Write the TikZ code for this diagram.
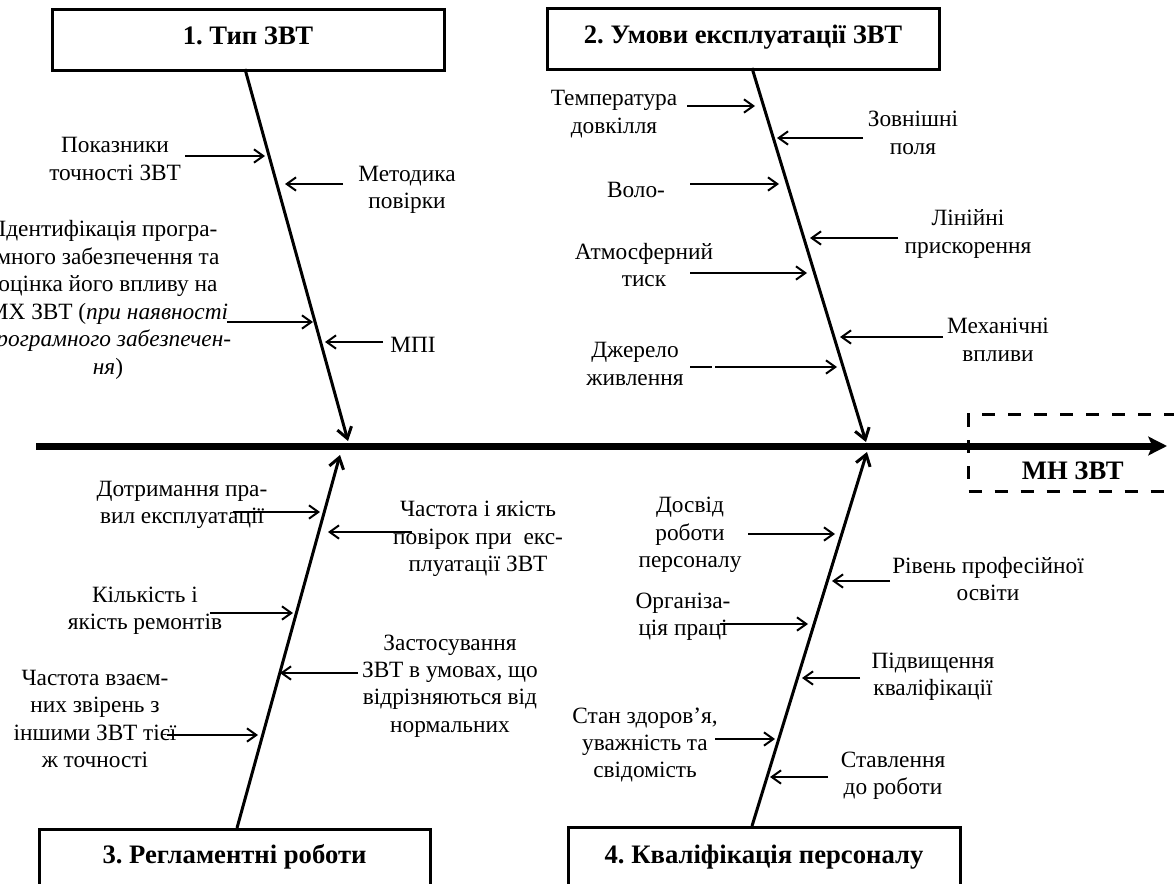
\documentclass[tikz,border=0pt]{standalone}
\usepackage{fontspec}
\setmainfont{Liberation Serif}
\usetikzlibrary{arrows.meta}
\frenchspacing
\tikzset{
  lbl/.style={align=center, font=\fontsize{17.5}{20.6}\selectfont, inner sep=0pt},
  arr/.style={line width=1.5pt, -{Straight Barb[length=7pt,width=10pt]}},
  plain/.style={line width=1.5pt},
  bone/.style={line width=2.25pt, -{Straight Barb[length=8pt,width=11pt]}},
  spine/.style={line width=5.25pt, -{Stealth[length=14pt,width=14pt,inset=3pt]}},
  titlebox/.style={draw, line width=2.25pt, inner sep=0pt, anchor=north,
    font=\fontsize{20}{24}\selectfont\bfseries},
  resbox/.style={draw, line width=2.25pt, dash pattern=on 9.75pt off 9.75pt,
    inner ysep=0pt, inner xsep=40pt, anchor=north west,
    font=\fontsize{20}{24}\selectfont\bfseries}
}
\begin{document}
\begin{tikzpicture}[x=0.75pt,y=-0.75pt]
\useasboundingbox (0,0) rectangle (1174,884);
\clip (0,0) rectangle (1174,884);

% boxes
\node[titlebox, minimum width=294pt, text height=26.25pt, text depth=19.5pt] (b1) at (248,8) {1. Тип ЗВТ};
\node[titlebox, minimum width=294pt, text height=26.25pt, text depth=19.5pt] (b2) at (743,7) {2. Умови експлуатації ЗВТ};
\node[titlebox, minimum width=293.25pt, text height=25.5pt, text depth=50pt] (b3) at (234.5,828) {3. Регламентні роботи};
\node[titlebox, minimum width=294pt, text height=27pt, text depth=50pt] (b4) at (764,826) {4. Кваліфікація персоналу};

% spine
\coordinate (spL) at (36,446);
\coordinate (spR) at (1167,446);
\draw[spine] (spL) -- (spR);
\node[resbox, text height=48.75pt, text depth=9pt] (mn) at (967,413) {МН ЗВТ};

% bones
\coordinate (r1s) at (245,69);  \coordinate (r1e) at (348,441);
\coordinate (r2s) at (752,68);  \coordinate (r2e) at (866,442);
\coordinate (r3s) at (237,828); \coordinate (r3e) at (340,455);
\coordinate (r4s) at (752,826); \coordinate (r4e) at (867,452);
\draw[bone] (r1s) -- (r1e);
\draw[bone] (r2s) -- (r2e);
\draw[bone] (r3s) -- (r3e);
\draw[bone] (r4s) -- (r4e);

% ---- bone 1 labels
\node[lbl] (l1) at (115,159) {Показники\\точності ЗВТ};
\coordinate (a1s) at (185,156); \coordinate (a1e) at (265,156);
\draw[arr] (a1s) -- (a1e);

\node[lbl] (l2) at (407,190) {Методика\\повірки};
\coordinate (a2s) at (343,184); \coordinate (a2e) at (285,184);
\draw[arr] (a2s) -- (a2e);

\node[lbl] (l3) at (108,300) {Ідентифікація програ-\\много забезпечення та\\оцінка його впливу на\\МХ ЗВТ (\textit{при наявності}\\\textit{програмного забезпечен-}\\\textit{ня})};
\coordinate (a3s) at (227,322); \coordinate (a3e) at (313,322);
\draw[arr] (a3s) -- (a3e);

\node[lbl] (l4) at (413,345) {МПІ};
\coordinate (a4s) at (383,342); \coordinate (a4e) at (325,342);
\draw[arr] (a4s) -- (a4e);

% ---- bone 2 labels
\node[lbl] (l5) at (614,114) {Температура\\довкілля};
\coordinate (a5s) at (687,106); \coordinate (a5e) at (755,106);
\draw[arr] (a5s) -- (a5e);

\node[lbl] (l6) at (913,133) {Зовнішні\\поля};
\coordinate (a6s) at (863,138); \coordinate (a6e) at (777,138);
\draw[arr] (a6s) -- (a6e);

\node[lbl] (l7) at (636,190) {Воло-};
\coordinate (a7s) at (690,184); \coordinate (a7e) at (779,184);
\draw[arr] (a7s) -- (a7e);

\node[lbl] (l8) at (968,234) {Лінійні\\прискорення};
\coordinate (a8s) at (898,238); \coordinate (a8e) at (810,238);
\draw[arr] (a8s) -- (a8e);

\node[lbl] (l9) at (644,265) {Атмосферний\\тиск};
\coordinate (a9s) at (690,273); \coordinate (a9e) at (807,273);
\draw[arr] (a9s) -- (a9e);

\node[lbl] (l10) at (998,340) {Механічні\\впливи};
\coordinate (a10s) at (943,337); \coordinate (a10e) at (840,337);
\draw[arr] (a10s) -- (a10e);

\node[lbl] (l11) at (635,364) {Джерело\\живлення};
\coordinate (a11s) at (690,367); \coordinate (a11g) at (712,367);
\coordinate (a11m) at (715,367); \coordinate (a11e) at (837,367);
\draw[plain] (a11s) -- (a11g);
\draw[arr] (a11m) -- (a11e);

% ---- bone 3 labels
\node[lbl] (l12) at (182,505) {Дотримання пра-\\вил експлуатації};
\coordinate (a12s) at (233,512); \coordinate (a12e) at (320,512);
\draw[arr] (a12s) -- (a12e);

\node[lbl] (l13) at (478,539) {Частота і якість\\повірок при \ екс-\\плуатації ЗВТ};
\coordinate (a13s) at (412,532); \coordinate (a13e) at (328,532);
\draw[arr] (a13s) -- (a13e);

\node[lbl] (l14) at (145,611) {Кількість і\\якість ремонтів};
\coordinate (a14s) at (210,613); \coordinate (a14e) at (293,613);
\draw[arr] (a14s) -- (a14e);

\node[lbl] (l15) at (450,686) {Застосування\\ЗВТ в умовах, що\\відрізняються від\\нормальних};
\coordinate (a15s) at (358,673); \coordinate (a15e) at (280,673);
\draw[arr] (a15s) -- (a15e);

\node[lbl] (l16) at (95,719) {Частота взаєм-\\них звірень з\\іншими ЗВТ тієї\\ж точності};
\coordinate (a16s) at (167,735); \coordinate (a16e) at (258,735);
\draw[arr] (a16s) -- (a16e);

% ---- bone 4 labels
\node[lbl] (l17) at (690,535) {Досвід\\роботи\\персоналу};
\coordinate (a17s) at (748,534); \coordinate (a17e) at (835,534);
\draw[arr] (a17s) -- (a17e);

\node[lbl] (l18) at (988,579) {Рівень професійної\\освіти};
\coordinate (a18s) at (890,581); \coordinate (a18e) at (832,581);
\draw[arr] (a18s) -- (a18e);

\node[lbl] (l19) at (683,617) {Організа-\\ція праці};
\coordinate (a19s) at (720,624); \coordinate (a19e) at (808,624);
\draw[arr] (a19s) -- (a19e);

\node[lbl] (l20) at (933,677) {Підвищення\\кваліфікації};
\coordinate (a20s) at (860,678); \coordinate (a20e) at (802,678);
\draw[arr] (a20s) -- (a20e);

\node[lbl] (l21) at (645,745) {Стан здоров’я,\\уважність та\\свідомість};
\coordinate (a21s) at (715,739); \coordinate (a21e) at (775,739);
\draw[arr] (a21s) -- (a21e);

\node[lbl] (l22) at (893,776) {Ставлення\\до роботи};
\coordinate (a22s) at (828,777); \coordinate (a22e) at (770,777);
\draw[arr] (a22s) -- (a22e);
\end{tikzpicture}
\end{document}
